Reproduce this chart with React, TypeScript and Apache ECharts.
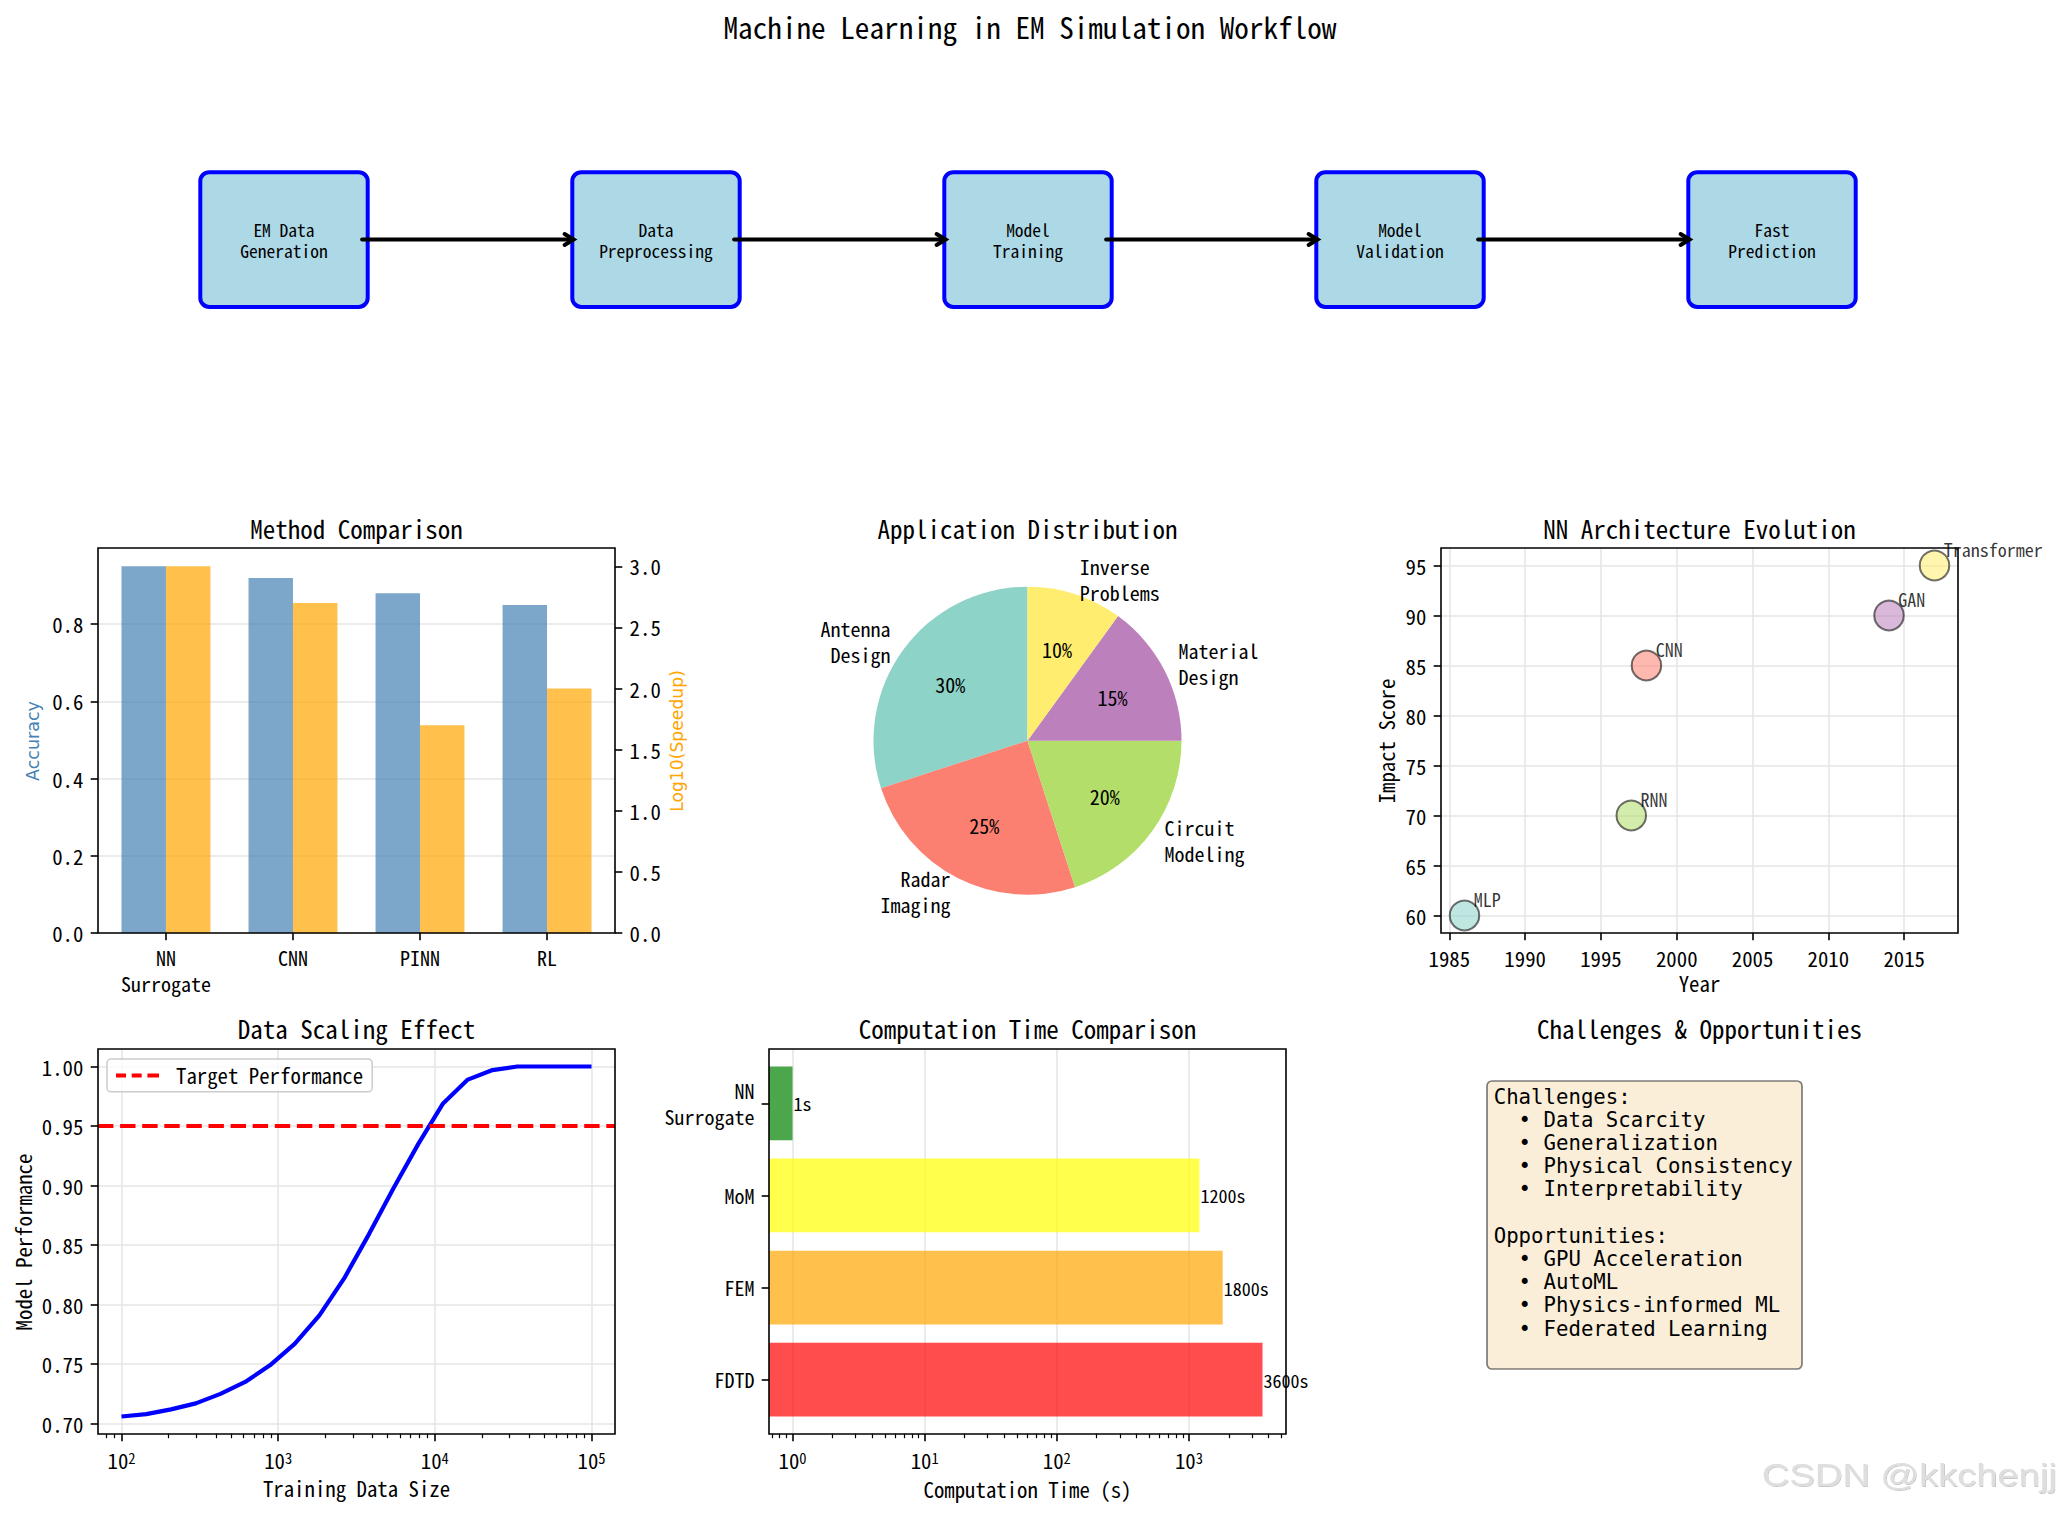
import React, { useEffect, useRef } from 'react';
import * as echarts from 'echarts';

// ---------------- data ----------------
const flowSteps = ['EM Data\nGeneration', 'Data\nPreprocessing', 'Model\nTraining', 'Model\nValidation', 'Fast\nPrediction'];
const flowPos = [1, 3, 5, 7, 9];

const methodNames = ['NN\nSurrogate', 'CNN', 'PINN', 'RL'];
const methodAccuracy = [0.95, 0.92, 0.88, 0.85];
const methodLogSpeedup = [3.0, 2.7, 1.7, 2.0];
const accTicks = [0, 0.2, 0.4, 0.6, 0.8];
const speedTicks = [0, 0.5, 1, 1.5, 2, 2.5, 3];

const appNames = ['Antenna\nDesign', 'Radar\nImaging', 'Circuit\nModeling', 'Material\nDesign', 'Inverse\nProblems'];
const appShares = [30, 25, 20, 15, 10];
const set3 = ['#8DD3C7', '#FB8072', '#B3DE69', '#BC80BD', '#FFED6F'];

const archNames = ['MLP', 'CNN', 'RNN', 'GAN', 'Transformer'];
const archYears = [1986, 1998, 1997, 2014, 2017];
const archImpact = [60, 85, 70, 90, 95];
const yearTicks = [1985, 1990, 1995, 2000, 2005, 2010, 2015];
const impactTicks = [60, 65, 70, 75, 80, 85, 90, 95];

const dataSizes = [100, 144, 207, 298, 428, 616, 886, 1274, 1833, 2637, 3793, 5456, 7848, 11288, 16238, 23357, 33598, 48329, 69519, 100000];
const modelPerf = [0.706, 0.708, 0.712, 0.717, 0.725, 0.735, 0.749, 0.767, 0.791, 0.822, 0.859, 0.898, 0.935, 0.969, 0.989, 0.997, 1.0, 1.0, 1.0, 1.0];
const targetPerf = 0.95;
const sizeDecades = [2, 3, 4, 5];
const perfTicks = [0.7, 0.75, 0.8, 0.85, 0.9, 0.95, 1.0];

const simNames = ['FDTD', 'FEM', 'MoM', 'NN\nSurrogate'];
const simTimes = [3600, 1800, 1200, 1];
const simColors = ['rgba(255,0,0,0.7)', 'rgba(255,165,0,0.7)', 'rgba(255,255,0,0.7)', 'rgba(0,128,0,0.7)'];
const timeDecades = [0, 1, 2, 3];

const challengeItems = ['Data Scarcity', 'Generalization', 'Physical Consistency', 'Interpretability'];
const opportunityItems = ['GPU Acceleration', 'AutoML', 'Physics-informed ML', 'Federated Learning'];

// ---------------- layout / style ----------------
const CJK = "'Noto Sans Mono CJK SC', 'Noto Sans CJK SC', sans-serif";
const MONO = "'DejaVu Sans Mono', monospace";
const DEJAVU = "'DejaVu Sans', sans-serif";
const TICK_FS = 20.8;
const MULTI_FS = 20;
const MULTI_LH = 26;
const GRID_LINE = '#e6e6e6';

const G_METHOD = { left: 98, top: 548, width: 517, height: 385 };
const G_ARCH = { left: 1441, top: 548, width: 517, height: 385 };
const G_SCALE = { left: 98, top: 1049, width: 517, height: 385 };
const G_TIME = { left: 769, top: 1049, width: 517, height: 385 };
const G_TOP = { left: 98, top: 47, width: 1860, height: 385 };
const PIE = { cx: 1027.5, cy: 740.7, r: 154 };

const pad = (lo: number, hi: number, f = 0.05) => [lo - (hi - lo) * f, hi + (hi - lo) * f];
const rgba = (hex: string, a: number) => {
  const n = parseInt(hex.slice(1), 16);
  return `rgba(${(n >> 16) & 255},${(n >> 8) & 255},${n & 255},${a})`;
};
const minorTicks = (lo: number, hi: number) => {
  const out: number[] = [];
  for (let e = Math.floor(lo) - 1; e <= Math.ceil(hi); e++) {
    for (let k = 2; k <= 9; k++) {
      const v = e + Math.log10(k);
      if (v >= lo && v <= hi) out.push(v);
    }
  }
  return out;
};

const NOLINE = { show: false, onZero: false };
const gridStyle = (g: any) => ({ ...g, show: true, borderColor: '#000', borderWidth: 1.6, backgroundColor: 'rgba(0,0,0,0)', z: 10 });
const tickStyle = (custom: number[]) => ({ show: true, length: 7.3, customValues: custom, lineStyle: { color: '#000', width: 1.6 } });
const labelStyle = (custom: number[], formatter: any, extra: any = {}) => ({
  show: true, customValues: custom, formatter, color: '#000', fontFamily: CJK, fontSize: TICK_FS, margin: 14.6, ...extra,
});
const split = (show: boolean) => ({ show, lineStyle: { color: GRID_LINE, width: 1.6 } });
const decadeLabel = (custom: number[]) => labelStyle(custom, (v: number) => `{b|10}{s|${Math.round(v)}}`, {
  margin: 16,
  rich: {
    b: { fontSize: TICK_FS, fontFamily: CJK, color: '#000', lineHeight: 20, verticalAlign: 'bottom' },
    s: { fontSize: 14.5, fontFamily: CJK, color: '#000', lineHeight: 12, verticalAlign: 'top' },
  },
});

const txt = (x: number, y: number, text: string, size: number, o: any = {}) => ({
  type: 'text', x, y, rotation: o.rot || 0, silent: true, z: 100,
  scaleX: o.scaleX || 1,
  style: {
    text, x: 0, y: 0, fill: o.color || '#000', fontSize: size, fontFamily: o.family || CJK,
    align: o.align || 'center', verticalAlign: o.valign || 'middle',
    textAlign: o.align || 'center', textVerticalAlign: o.valign || 'middle',
    lineHeight: o.lineHeight, ...(o.style || {}),
  },
});

function buildOption() {
  const mX = pad(-0.35, 3.35);
  const archX = pad(Math.min(...archYears), Math.max(...archYears));
  const archY = pad(Math.min(...archImpact), Math.max(...archImpact));
  const logSizes = dataSizes.map((s) => Math.log10(s));
  const sX = pad(Math.min(...logSizes), Math.max(...logSizes));
  const sY = pad(Math.min(...modelPerf), Math.max(...modelPerf));
  const logTimes = simTimes.map((t) => Math.log10(t));
  const tX = pad(Math.min(...logTimes), Math.max(...logTimes));
  const tY = pad(-0.4, simNames.length - 1 + 0.4);

  const boxLines = [
    'Challenges:',
    ...challengeItems.map((s) => '\u00a0\u00a0• ' + s),
    '',
    'Opportunities:',
    ...opportunityItems.map((s) => '\u00a0\u00a0• ' + s),
  ];

  const barRender = (color: string) => (params: any, api: any) => {
    const top = api.coord([api.value(0), api.value(1)]);
    const base = api.coord([api.value(0), 0]);
    const w = api.size([0.35, 0])[0];
    return { type: 'rect', shape: { x: top[0] - w / 2, y: top[1], width: w, height: base[1] - top[1] }, style: { fill: color } };
  };

  return {
    animation: false,
    backgroundColor: '#ffffff',
    textStyle: { fontFamily: CJK },
    grid: [gridStyle(G_METHOD), gridStyle(G_ARCH), gridStyle(G_SCALE), gridStyle(G_TIME), { ...G_TOP, show: false }],
    xAxis: [
      { gridIndex: 0, type: 'value', min: mX[0], max: mX[1], axisLine: NOLINE, splitLine: split(false),
        axisTick: tickStyle([0, 1, 2, 3]), axisLabel: labelStyle([0, 1, 2, 3], (v: number) => methodNames[Math.round(v)], { lineHeight: MULTI_LH, margin: 11, fontSize: MULTI_FS }) },
      { gridIndex: 1, type: 'value', min: archX[0], max: archX[1], splitNumber: 5, axisLine: NOLINE, splitLine: split(true),
        axisTick: tickStyle(yearTicks), axisLabel: labelStyle(yearTicks, (v: number) => String(v)) },
      { gridIndex: 2, type: 'value', min: sX[0], max: sX[1], splitNumber: 3, axisLine: NOLINE, splitLine: split(true),
        axisTick: tickStyle(sizeDecades), axisLabel: decadeLabel(sizeDecades) },
      { gridIndex: 2, type: 'value', min: sX[0], max: sX[1], position: 'bottom', axisLine: NOLINE, splitLine: { show: false },
        axisLabel: { show: false }, axisTick: { show: true, length: 4.2, customValues: minorTicks(sX[0], sX[1]), lineStyle: { color: '#000', width: 1.2 } } },
      { gridIndex: 3, type: 'value', min: tX[0], max: tX[1], splitNumber: 4, axisLine: NOLINE, splitLine: split(true),
        axisTick: tickStyle(timeDecades), axisLabel: decadeLabel(timeDecades) },
      { gridIndex: 3, type: 'value', min: tX[0], max: tX[1], position: 'bottom', axisLine: NOLINE, splitLine: { show: false },
        axisLabel: { show: false }, axisTick: { show: true, length: 4.2, customValues: minorTicks(tX[0], tX[1]), lineStyle: { color: '#000', width: 1.2 } } },
      { gridIndex: 4, type: 'value', min: 0, max: 10, show: false, axisLine: NOLINE },
    ],
    yAxis: [
      { gridIndex: 0, type: 'value', min: 0, max: 0.95 * 1.05, splitNumber: 5, axisLine: NOLINE, splitLine: split(true),
        axisTick: tickStyle(accTicks), axisLabel: labelStyle(accTicks, (v: number) => v.toFixed(1)) },
      { gridIndex: 0, type: 'value', position: 'right', min: 0, max: 3 * 1.05, axisLine: NOLINE, splitLine: split(false),
        axisTick: tickStyle(speedTicks), axisLabel: labelStyle(speedTicks, (v: number) => v.toFixed(1)) },
      { gridIndex: 1, type: 'value', min: archY[0], max: archY[1], splitNumber: 7, axisLine: NOLINE, splitLine: split(true),
        axisTick: tickStyle(impactTicks), axisLabel: labelStyle(impactTicks, (v: number) => String(v)) },
      { gridIndex: 2, type: 'value', min: sY[0], max: sY[1], splitNumber: 6, axisLine: NOLINE, splitLine: split(true),
        axisTick: tickStyle(perfTicks), axisLabel: labelStyle(perfTicks, (v: number) => v.toFixed(2)) },
      { gridIndex: 3, type: 'value', min: tY[0], max: tY[1], axisLine: NOLINE, splitLine: split(false),
        axisTick: tickStyle([0, 1, 2, 3]), axisLabel: labelStyle([0, 1, 2, 3], (v: number) => simNames[Math.round(v)], { lineHeight: MULTI_LH, fontSize: MULTI_FS }) },
      { gridIndex: 4, type: 'value', min: 0, max: 2, show: false, axisLine: NOLINE },
    ],
    legend: {
      data: [{ name: 'Target Performance', icon: 'path://M0,0H10V4H0Z M15.7,0H25.7V4H15.7Z M31.4,0H43V4H31.4Z' }],
      left: 107, top: 1059, itemWidth: 43, itemHeight: 4,
      padding: [6, 9, 6, 9], borderColor: '#cccccc', borderWidth: 1.5, borderRadius: 4,
      backgroundColor: 'rgba(255,255,255,0.8)', selectedMode: false, z: 20,
      textStyle: { fontFamily: CJK, fontSize: TICK_FS, color: '#000', padding: [0, 0, 0, 12] },
    },
    series: [
      // flow diagram boxes
      { type: 'custom', xAxisIndex: 6, yAxisIndex: 5, silent: true, clip: false,
        data: flowPos.map((x, i) => [x, 1, i]),
        renderItem: (params: any, api: any) => {
          const c = api.coord([api.value(0), api.value(1)]);
          const s = api.size([0.9, 0.7]);
          const i = api.value(2);
          return { type: 'group', children: [
            { type: 'rect', shape: { x: c[0] - s[0] / 2, y: c[1] - s[1] / 2, width: s[0], height: s[1], r: 9 },
              style: { fill: '#ADD8E6', stroke: '#0000FF', lineWidth: 4 } },
            { type: 'text', style: { text: flowSteps[i], x: c[0], y: c[1], align: 'center', verticalAlign: 'middle',
              fontSize: 17.5, lineHeight: 21, fontFamily: CJK, fill: '#000' } },
          ] };
        } },
      // flow arrows
      { type: 'custom', xAxisIndex: 6, yAxisIndex: 5, silent: true, clip: false,
        data: flowPos.slice(0, -1).map((x, i) => [x, flowPos[i + 1], 1]),
        renderItem: (params: any, api: any) => {
          const p0 = api.coord([api.value(0) + 0.42, api.value(2)]);
          const p1 = api.coord([api.value(1) - 0.443, api.value(2)]);
          return { type: 'group', children: [
            { type: 'line', shape: { x1: p0[0], y1: p0[1], x2: p1[0] - 3, y2: p1[1] }, style: { stroke: '#000', lineWidth: 4, lineCap: 'round' } },
            { type: 'polyline', shape: { points: [[p1[0] - 9, p1[1] - 5.5], [p1[0], p1[1]], [p1[0] - 9, p1[1] + 5.5]] },
              style: { stroke: '#000', fill: 'none', lineWidth: 4, lineJoin: 'miter', lineCap: 'round' } },
          ] };
        } },
      // method comparison bars
      { type: 'custom', xAxisIndex: 0, yAxisIndex: 0, silent: true,
        data: methodAccuracy.map((v, i) => [i - 0.175, v]), renderItem: barRender('rgba(70,130,180,0.7)') },
      { type: 'custom', xAxisIndex: 0, yAxisIndex: 1, silent: true,
        data: methodLogSpeedup.map((v, i) => [i + 0.175, v]), renderItem: barRender('rgba(255,165,0,0.7)') },
      // pie
      { type: 'pie', center: [PIE.cx, PIE.cy], radius: PIE.r, startAngle: 90, clockwise: false, silent: true,
        avoidLabelOverlap: false,
        data: appNames.map((n, i) => ({ name: n, value: appShares[i], itemStyle: { color: set3[i] } })),
        label: { show: true, position: 'outside', formatter: '{b}', fontFamily: CJK, fontSize: MULTI_FS, color: '#000',
          lineHeight: MULTI_LH, distanceToLabelLine: 0 },
        labelLine: { show: false, length: PIE.r * 0.1, length2: 0 } },
      { type: 'pie', center: [PIE.cx, PIE.cy], radius: PIE.r * 1.2, startAngle: 90, clockwise: false, silent: true,
        avoidLabelOverlap: false, percentPrecision: 0, z: 3,
        data: appNames.map((n, i) => ({ name: n, value: appShares[i], itemStyle: { color: 'rgba(0,0,0,0)' } })),
        label: { show: true, position: 'inside', formatter: '{d}%', fontFamily: CJK, fontSize: 20, color: '#000' },
        labelLine: { show: false } },
      // scatter
      { type: 'scatter', xAxisIndex: 1, yAxisIndex: 2, silent: true, symbolSize: 29.5,
        data: archYears.map((y, i) => ({ name: archNames[i], value: [y, archImpact[i]],
          itemStyle: { color: rgba(set3[i], 0.7), borderColor: 'rgba(0,0,0,0.7)', borderWidth: 2 } })),
        label: { show: true, formatter: '{b}', position: [25, -1], align: 'left', verticalAlign: 'middle',
          fontFamily: CJK, fontSize: 18, color: '#000' } },
      // data scaling
      { type: 'line', name: 'Model', xAxisIndex: 2, yAxisIndex: 3, silent: true, symbol: 'none',
        data: dataSizes.map((s, i) => [Math.log10(s), modelPerf[i]]),
        lineStyle: { color: '#0000FF', width: 4.2 } },
      { type: 'line', name: 'Target Performance', xAxisIndex: 2, yAxisIndex: 3, silent: true, symbol: 'none',
        data: [[sX[0], targetPerf], [sX[1], targetPerf]], itemStyle: { color: '#FF0000' },
        lineStyle: { color: '#FF0000', width: 4.2, type: [15.4, 6.7] } },
      // computation time bars
      { type: 'custom', xAxisIndex: 4, yAxisIndex: 4, silent: true,
        data: simTimes.map((t, i) => [Math.log10(t), i, t]),
        renderItem: (params: any, api: any) => {
          const i = params.dataIndex;
          const end = api.coord([api.value(0), api.value(1)]);
          const h = api.size([0, 0.8])[1];
          const x0 = params.coordSys.x;
          return { type: 'group', children: [
            { type: 'rect', shape: { x: x0, y: end[1] - h / 2, width: end[0] - x0, height: h }, style: { fill: simColors[i] } },
            { type: 'text', style: { text: `${api.value(2)}s`, x: end[0] + 1, y: end[1], align: 'left', verticalAlign: 'middle',
              fontSize: 18, fontFamily: CJK, fill: '#000' } },
          ] };
        } },
    ],
    graphic: [
      txt(1030, 26, 'Machine Learning in EM Simulation Workflow', 29.2),
      txt(356.5, 528, 'Method Comparison', 25),
      txt(1027.5, 528, 'Application Distribution', 25),
      txt(1699.5, 528, 'NN Architecture Evolution', 25),
      txt(356.5, 1028, 'Data Scaling Effect', 25),
      txt(1027.5, 1028, 'Computation Time Comparison', 25),
      txt(1699.5, 1028, 'Challenges & Opportunities', 25),
      txt(33, 741, 'Accuracy', 17.5, { rot: Math.PI / 2, color: '#4682B4', family: DEJAVU }),
      txt(677, 741, 'Log10(Speedup)', 17.2, { rot: Math.PI / 2, color: '#FFA500', family: DEJAVU }),
      txt(1699.5, 983, 'Year', TICK_FS),
      txt(1386, 741, 'Impact Score', TICK_FS, { rot: Math.PI / 2 }),
      txt(356.5, 1488, 'Training Data Size', TICK_FS),
      txt(22.5, 1242, 'Model Performance', TICK_FS, { rot: Math.PI / 2 }),
      txt(1027.5, 1489, 'Computation Time (s)', TICK_FS),
      { type: 'rect', silent: true, z: 50, shape: { x: 1487, y: 1081, width: 315, height: 288, r: 5 },
        style: { fill: 'rgba(245,222,179,0.5)', stroke: 'rgba(0,0,0,0.5)', lineWidth: 1.7 } },
      txt(1493.7, 1085.1, boxLines.join('\n'), 20.7, { family: MONO, align: 'left', valign: 'top', lineHeight: 23.2 }),
      txt(2056.7, 1475, 'CSDN @kkchenjj', 31, { family: "'Liberation Sans', Arial, sans-serif", align: 'right', scaleX: 1.23,
        color: '#dedede', style: { textShadowColor: 'rgba(0,0,0,0.22)', textShadowBlur: 1.5, textShadowOffsetX: 1, textShadowOffsetY: 1 } }),
    ],
  };
}

export default function App() {
  const ref = useRef<HTMLDivElement>(null);
  useEffect(() => {
    document.body.style.margin = '0';
    document.body.style.overflow = 'hidden';
    if (!ref.current) return;
    const chart = echarts.init(ref.current, null, { renderer: 'svg' });
    chart.setOption(buildOption() as any);
    return () => chart.dispose();
  }, []);
  return <div ref={ref} style={{ width: 2062, height: 1513, background: '#fff' }} />;
}
